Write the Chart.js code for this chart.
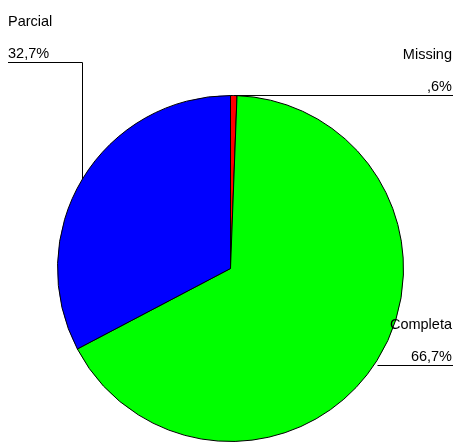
<!DOCTYPE html>
<html>
<head>
<meta charset="utf-8">
<script src="https://cdn.jsdelivr.net/npm/chart.js@4"></script>
<style>
  body { margin: 0; background: #fff; }
  canvas { display: block; }
</style>
</head>
<body>
<canvas id="pie" width="457" height="444"></canvas>
<script>
const categories = ['Missing', 'Completa', 'Parcial'];
const values = [0.6, 66.7, 32.7];
const pctLabels = [',6%', '66,7%', '32,7%'];
const colors = ['#ff0000', '#00ff00', '#0000ff'];

const leaders = {
  id: 'leaders',
  afterDatasetsDraw(chart) {
    const ctx = chart.ctx;
    const meta = chart.getDatasetMeta(0);
    const W = chart.width;
    ctx.save();
    ctx.strokeStyle = '#000';
    ctx.lineWidth = 1;
    ctx.fillStyle = '#000';
    ctx.font = '14.5px "Liberation Sans", Arial, sans-serif';
    meta.data.forEach((arc, i) => {
      const p = arc.getProps(['x', 'y', 'startAngle', 'endAngle', 'outerRadius'], true);
      const a = (p.startAngle + p.endAngle) / 2;
      const ex = Math.round(p.x + Math.cos(a) * p.outerRadius) + 0.5;
      const ey = Math.round(p.y + Math.sin(a) * p.outerRadius) + 0.5;
      ctx.beginPath();
      if (ex < p.x) {
        const ly = 62.5;
        ctx.moveTo(ex, ey);
        ctx.lineTo(ex, ly);
        ctx.lineTo(8, ly);
        ctx.stroke();
        ctx.textAlign = 'left';
        ctx.fillText(categories[i], 8, ly - 37);
        ctx.fillText(pctLabels[i], 8, ly - 5);
      } else {
        const ly = i === 0 ? ey - 1 : ey + 4;
        ctx.moveTo(ex, ly);
        ctx.lineTo(W - 4, ly);
        ctx.stroke();
        ctx.textAlign = 'right';
        ctx.fillText(categories[i], W - 5, ly - 37);
        ctx.fillText(pctLabels[i], W - 5, ly - 5);
      }
    });
    ctx.restore();
  }
};

new Chart(document.getElementById('pie').getContext('2d'), {
  type: 'pie',
  data: {
    labels: categories,
    datasets: [{
      data: values,
      backgroundColor: colors,
      borderColor: '#000',
      borderWidth: 1
    }]
  },
  options: {
    responsive: false,
    animation: false,
    layout: { padding: { left: 57, right: 53, top: 95, bottom: 2 } },
    plugins: {
      legend: { display: false },
      tooltip: { enabled: false }
    }
  },
  plugins: [leaders]
});
</script>
</body>
</html>
